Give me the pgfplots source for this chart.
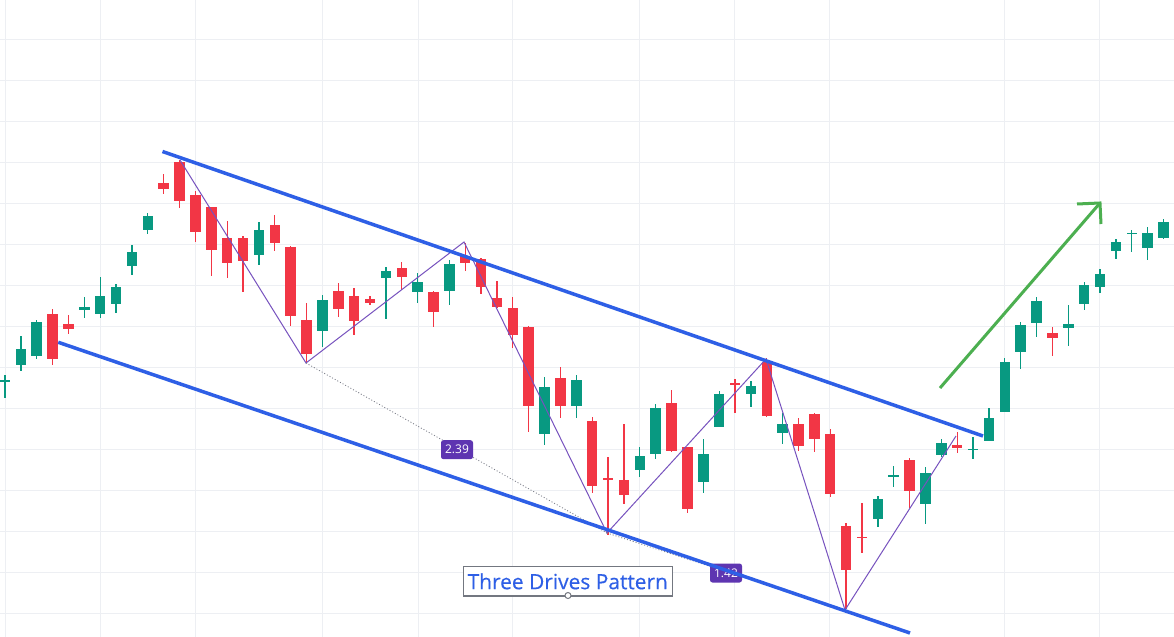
\documentclass[border=0pt]{standalone}
\usepackage{pgfplots}
\usepackage{pgfplotstable}
\pgfplotsset{compat=1.18}
\usepackage{fontspec}
\setmainfont{Open Sans}
\newfontfamily\titlefont[FakeBold=0.35]{Open Sans}
\definecolor{upc}{HTML}{089981}
\definecolor{dnc}{HTML}{F23645}
\definecolor{gridc}{HTML}{EDEFF3}
\definecolor{tvblue}{HTML}{2E5FE6}
\definecolor{zzp}{HTML}{7752BE}
\definecolor{labp}{HTML}{5E35B1}
\definecolor{arrg}{HTML}{4CAF50}
\definecolor{boxg}{HTML}{737780}
\definecolor{dotg}{HTML}{787B86}

% pixel coordinates: x to the right, y downward; h = high (top), l = low (bottom), bt/bb = body top/bottom
\pgfplotstableread{
x h l bt bb
5.0 375 398 380.3 381.6
20.9 336 371 349 365
36.7 320 359 321.7 356
84.4 297 317.7 306.7 309.7
100.2 276.7 317.7 295.7 314
116.1 284 313 286.7 303.7
132.0 245 275 252 265.7
147.8 213 234 216 230
258.9 222 264.7 230 254.7
322.4 295 346.7 300 330.7
385.9 267 318.7 271 277.7
417.6 273.3 302.7 282 291.7
449.4 260 304.7 264 290.7
544.6 376.7 445 386.7 433.7
576.3 375 417.7 380 405.7
639.8 447 476.7 456 469.7
655.7 404 459.3 408 453.7
703.3 439 492.7 454 481.7
719.2 391 426.7 394 426.7
750.9 381.3 406.7 386 394
782.6 412.7 443.7 424 432.7
877.9 496 526.7 499.3 518.7
893.7 466 486.7 475.4 476.7
925.5 466.7 524.3 473.3 503.7
941.3 439 456.7 443.3 454.7
973.1 436.7 459.3 448.7 450
988.9 408.3 440.7 418.3 440.7
1004.8 358.3 411.7 362.3 411.7
1020.7 321.7 368.7 325 351.7
1036.6 297 336.7 301 322.7
1068.3 305 345.7 324 327.7
1084.2 282.3 310 285 303.7
1100.0 269 292.7 274 286.7
1115.9 239 258.7 242 250.7
1131.8 230 251.7 232.7 234
1147.6 227.3 260.3 233.3 247.7
1163.5 219 239 222 237.7
}\upcandles

\pgfplotstableread{
x h l bt bb
52.6 309 365 314 359
68.5 315 334 323.7 328.7
163.7 173.7 193.7 183 188.7
179.6 160 207.7 162 200.7
195.4 191 241.7 195 231.7
211.3 207 275.7 207 249.7
227.2 220.7 277.7 238 262.7
243.1 236 291.7 238 260.7
274.8 215 250.7 225 242.7
290.7 246 325.7 247 315.7
306.5 302.7 363.3 320 353.7
338.3 282.7 316.7 291 308.7
354.1 288.3 334.7 296 320.7
370.0 296 305.3 299 302.7
401.8 262 290 268 276.7
433.5 291 326.7 292 311.7
465.2 243 270.7 256 263.3
481.1 258.3 294 259 286.7
497.0 281 308.3 298.3 306.7
512.8 296.7 348.3 308 335
528.7 325.7 432.3 327 405.7
560.5 367 417.7 378 405.7
592.2 417.3 492.7 420.7 485.7
608.1 457 535 478.4 479.7
623.9 424 504 480 495
671.5 390 452.3 402.7 450.7
687.4 446.7 512.7 446.7 508.7
735.0 379.3 412.7 383 384.3
766.8 358.3 416.7 362 415.7
798.5 418.3 450.7 424 445.7
814.4 412.7 451.7 414 439.3
830.2 429.3 496.7 434.3 493.7
846.1 523.3 609.3 526 569.7
862.0 503.3 553.3 536.7 538
909.6 458.3 508.3 460 490.7
957.2 431.7 453.3 445 447.7
1052.4 326.7 355.7 333.3 337.7
1179.4 210 268 216 262.7
}\dncandles

\begin{document}
\begin{tikzpicture}
\fill[white] (0,0) rectangle (1174bp,637bp);
\begin{axis}[
  scale only axis, width=1174bp, height=637bp,
  xmin=0, xmax=1174, ymin=0, ymax=637, y dir=reverse,
  axis line style={draw=none}, tick style={draw=none},
  xtick={5.5,100,195.5,322.5,418,512.5,639.5,734.5,829.5,1004.5,1099.5},
  ytick={39.3,80.3,121.3,162.3,203.3,244.3,285.3,326.3,367.3,408.3,449.3,490.3,531.3,572.3,613.3},
  xticklabels={}, yticklabels={},
  grid=major, major grid style={draw=gridc, line width=1bp},
  clip=true,
]
% wicks
\addplot[forget plot, draw=none, mark=none, error bars/.cd, y dir=both, y explicit, error mark=none,
  error bar style={draw=upc, line width=1.3bp}]
  table[x=x, y expr={(\thisrow{h}+\thisrow{l})/2}, y error expr={(\thisrow{l}-\thisrow{h})/2}] {\upcandles};
\addplot[forget plot, draw=none, mark=none, error bars/.cd, y dir=both, y explicit, error mark=none,
  error bar style={draw=dnc, line width=1.3bp}]
  table[x=x, y expr={(\thisrow{h}+\thisrow{l})/2}, y error expr={(\thisrow{l}-\thisrow{h})/2}] {\dncandles};
% bodies
\addplot[forget plot, draw=none, mark=none, error bars/.cd, y dir=both, y explicit, error mark=none,
  error bar style={draw=upc, line width=10.5bp}]
  table[x=x, y expr={(\thisrow{bt}+\thisrow{bb})/2}, y error expr={(\thisrow{bb}-\thisrow{bt})/2}] {\upcandles};
\addplot[forget plot, draw=none, mark=none, error bars/.cd, y dir=both, y explicit, error mark=none,
  error bar style={draw=dnc, line width=10.5bp}]
  table[x=x, y expr={(\thisrow{bt}+\thisrow{bb})/2}, y error expr={(\thisrow{bb}-\thisrow{bt})/2}] {\dncandles};

% zigzag of the three drives
\addplot[zzp, line width=1bp, mark=none] coordinates {
(180,160) (306,363) (464,242) (607,533) (766,359) (845,610) (956,436)};
% dotted retracement lines
\addplot[dotg, line width=0.8bp, dash pattern=on 1bp off 2bp, mark=none] coordinates {(306,363) (607,533)};
\addplot[dotg, line width=0.8bp, dash pattern=on 1bp off 2bp, mark=none] coordinates {(607,533) (845,610)};

\node[fill=labp, rounded corners=2.5bp, text=white, minimum width=32bp, minimum height=19bp, inner sep=0pt,
  font=\fontsize{12}{14}\selectfont] at (axis cs:457,449.7) {2.39};
\node[fill=labp, rounded corners=2.5bp, text=white, minimum width=32bp, minimum height=19bp, inner sep=0pt,
  font=\fontsize{12}{14}\selectfont] at (axis cs:726,573) {1.42};

% channel lines
\addplot[tvblue, line width=3.5bp, mark=none] coordinates {(162.5,151.5) (983,436)};
\addplot[tvblue, line width=3.5bp, mark=none] coordinates {(58.3,342.3) (910,633)};

% breakout arrow
\addplot[arrg, line width=3bp, mark=none] coordinates {(940,388) (1100,203)};
\addplot[arrg, line width=3bp, mark=none, line join=miter] coordinates {(1077,204) (1100,203) (1101,224)};

% title box
\node[draw=boxg, line width=1.5bp, fill=white, minimum width=209bp, minimum height=29.3bp, inner sep=0pt,
  text=tvblue, font=\titlefont\fontsize{21}{25}\selectfont] at (axis cs:567.8,581.3) {Three Drives Pattern};
\draw[boxg, fill=white, line width=1bp] (axis cs:568,595.5) circle[radius=3bp];
\end{axis}
\pgfresetboundingbox
\useasboundingbox (0,0) rectangle (1174bp,637bp);
\end{tikzpicture}
\end{document}
